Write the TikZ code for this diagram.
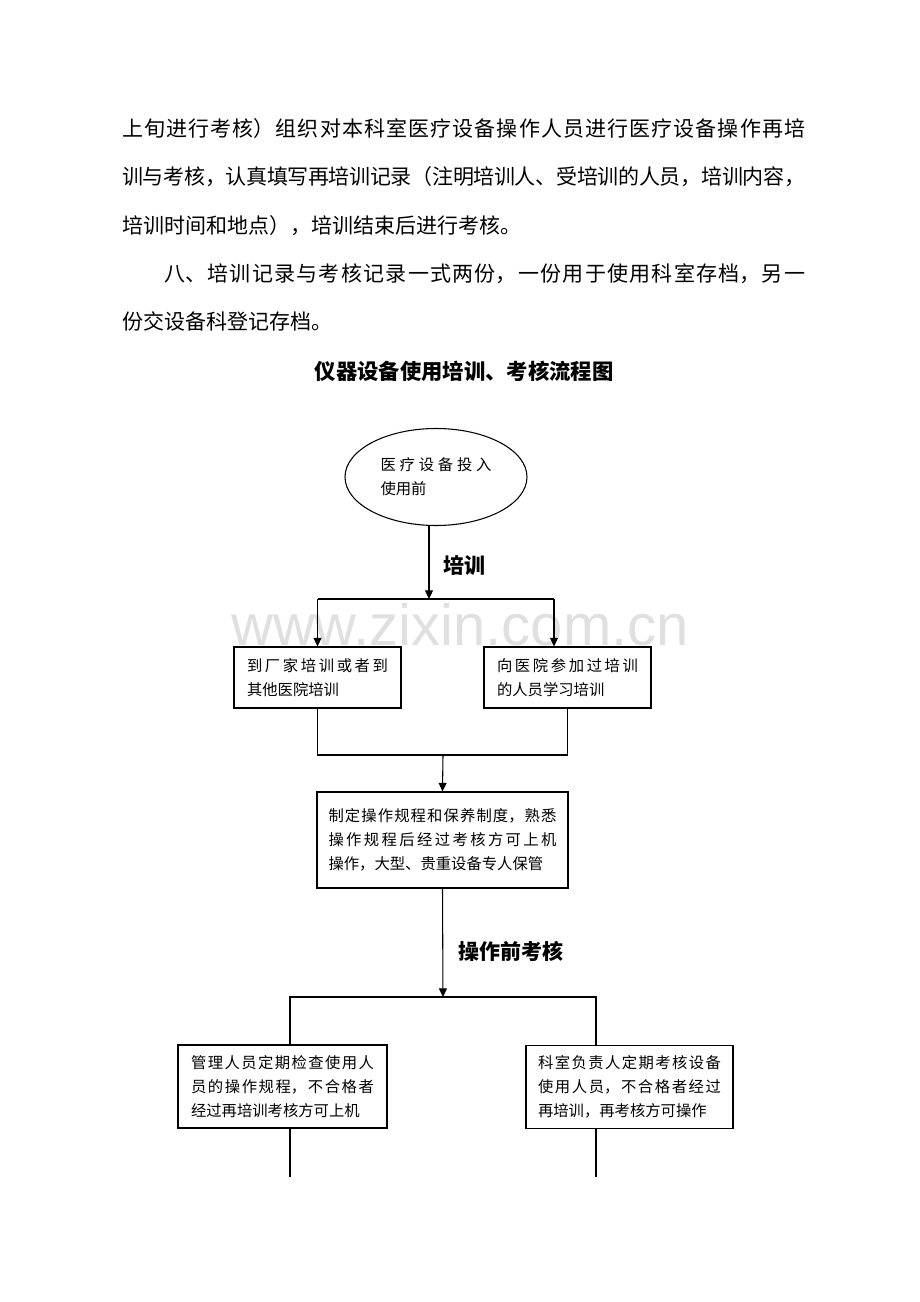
\documentclass[tikz,border=0pt]{standalone}
\usepackage{fontspec}
\setmainfont{Noto Sans CJK SC}
\newfontfamily\wmfont{Liberation Sans}
\usetikzlibrary{shapes.geometric,arrows.meta}
\XeTeXlinebreaklocale "zh"
\XeTeXlinebreakskip=0pt plus 5pt minus 0.5pt
\XeTeXlinebreakpenalty=0
\setlength{\parindent}{0pt}
\tolerance=10000 \hbadness=10000
\definecolor{wmgray}{RGB}{224,224,224}
\newcommand{\fullline}[1]{{\parfillskip=0pt #1\par}}

\begin{document}
\begin{tikzpicture}[x=0.75pt,y=0.75pt,yscale=-1,xscale=1,
  bodyline/.style={anchor=base west,inner sep=0pt,text width=512.25pt,align=justify,font=\fontsize{15.75}{36}\selectfont},
  steplabel/.style={inner sep=0pt,font=\bfseries\fontsize{15.75}{18}\selectfont},
  flowbox/.style={draw,line width=0.8pt,rectangle,inner sep=0pt,align=justify,font=\fontsize{11.5}{18}\selectfont},
  startoval/.style={draw,line width=0.8pt,ellipse,inner sep=0pt,align=justify,font=\fontsize{11.5}{18}\selectfont},
  flowline/.style={line width=0.8pt},
  flowarrow/.style={line width=0.8pt,-{Triangle[length=6.5pt,width=6pt]}}]
\path[fill=white] (0,0) rectangle (920,1302);
\useasboundingbox (0,0) rectangle (920,1302);

% Watermark
\node[font=\wmfont\fontsize{43.5}{43.5}\selectfont,text=wmgray,anchor=base,inner sep=0pt] (watermark) at (460,645) {www.zixin.com.cn};

% Text Node
\node[bodyline] (line1) at (122,137) {\fullline{上旬进行考核）组织对本科室医疗设备操作人员进行医疗设备操作再培}};
\node[bodyline] (line2) at (122,185) {\fullline{训与考核，认真填写再培训记录（注明培训人、受培训的人员，培训内容，}};
\node[bodyline] (line3) at (122,233) {培训时间和地点），培训结束后进行考核。};
\node[bodyline] (line4) at (122,281) {\fullline{\hspace*{2em}八、培训记录与考核记录一式两份，一份用于使用科室存档，另一}};
\node[bodyline] (line5) at (122,329) {份交设备科登记存档。};

% Title
\node[inner sep=0pt,font=\bfseries\fontsize{16}{18}\selectfont] (title) at (464,371) {仪器设备使用培训、考核流程图};

% Shapes
\node[startoval,minimum width=136.5pt,minimum height=72.75pt,text width=83.25pt] (start) at (436,477) {医疗设备投入\linebreak 使用前};
\node[flowbox,minimum width=125.25pt,minimum height=45.75pt,text width=105.75pt] (boxA) at (317.5,677.5) {到厂家培训或者到\linebreak 其他医院培训};
\node[flowbox,minimum width=125.25pt,minimum height=45.75pt,text width=105.75pt] (boxB) at (567.5,677.5) {向医院参加过培训\linebreak 的人员学习培训};
\node[flowbox,minimum width=188.25pt,minimum height=72pt,text width=171pt] (boxC) at (442.5,840) {制定操作规程和保养制度，熟悉\linebreak 操作规程后经过考核方可上机\linebreak 操作，大型、贵重设备专人保管};
\node[flowbox,minimum width=156.75pt,minimum height=62.25pt,text width=137.25pt] (boxD) at (282.5,1086.5) {管理人员定期检查使用人\linebreak 员的操作规程，不合格者\linebreak 经过再培训考核方可上机};
\node[flowbox,minimum width=155.25pt,minimum height=62.25pt,text width=137.25pt] (boxE) at (629.5,1087) {科室负责人定期考核设备\linebreak 使用人员，不合格者经过\linebreak 再培训，再考核方可操作};

% Labels
\node[steplabel] (trainlabel) at (464,565) {培训};
\node[steplabel] (checklabel) at (511,951) {操作前考核};

% Joints
\coordinate (split1) at (429,599);
\coordinate (split1R) at (554,599);
\coordinate (merge1) at (443,755);
\coordinate (split2) at (443,997);
\coordinate (split2L) at (290,997);
\coordinate (split2R) at (596,997);
\coordinate (endL) at (290,1177);
\coordinate (endR) at (596,1177);

% Straight Lines
\draw[flowarrow] (start.south -| split1) -- (split1);
\draw[flowline] (boxA.north |- split1) -- (split1R);
\draw[flowarrow] (boxA.north |- split1) -- (boxA.north);
\draw[flowarrow] (split1R) -- (split1R |- boxB.north);
\draw[flowline] (boxA.south) |- (merge1) -| (boxB.south);
\draw[flowarrow] (merge1) -- (boxC.north);
\draw[flowarrow] (boxC.south) -- (split2);
\draw[flowline] (split2L |- boxD.north) -- (split2L) -- (split2R) -- (split2R |- boxE.north);
\draw[flowline] (boxD.south -| endL) -- (endL);
\draw[flowline] (boxE.south -| endR) -- (endR);
\end{tikzpicture}
\end{document}
